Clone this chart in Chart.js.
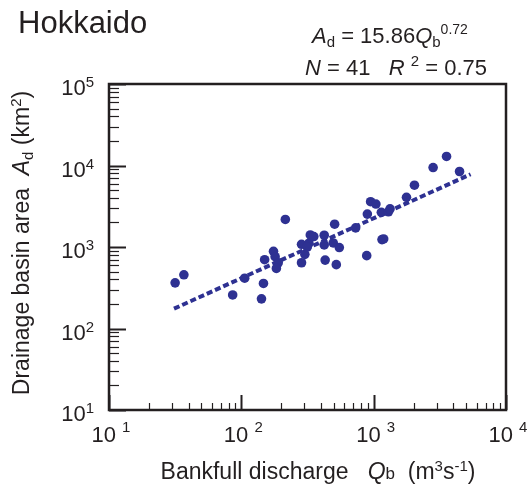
<!DOCTYPE html>
<html>
<head>
<meta charset="utf-8">
<script src="https://cdn.jsdelivr.net/npm/chart.js@4.4.1/dist/chart.umd.min.js"></script>
<style>
  body { margin: 0; background: #fff; }
  canvas { display: block; }
</style>
</head>
<body>
<canvas id="hokkaidoChart" width="531" height="494"></canvas>
<script>
  // bankfull discharge Qb (m3/s) and drainage basin area Ad (km2)
  const qb = [31.6, 36.8, 86, 106, 142, 147, 150, 175, 180, 190, 184, 215, 285, 285, 302, 324, 332, 353, 423, 423, 430, 495, 507, 522, 550, 731, 886, 896, 948, 1040, 1143, 1156, 1190, 1292, 1330, 1770, 2033, 2813, 3554, 4457, 315];
  const ad = [363, 456, 258, 414, 231, 357, 698, 885, 760, 641, 546, 2178, 1080, 641, 813, 1112, 1406, 1343, 1393, 1060, 691, 1122, 1905, 607, 984, 1718, 783, 2535, 3597, 3367, 2660, 1233, 1256, 2704, 2945, 4074, 5728, 9440, 12910, 8437, 1000];

  // regression line ends
  const fitX = [31, 5400];
  const fitY = [175, 7800];

  const xDecades = [1, 2, 3, 4];
  const yDecades = [1, 2, 3, 4, 5];

  const navy = "#2e3192";
  const ink = "#231f20";
  const FAM = "'Liberation Sans', Arial, sans-serif";

  // draw a row of text pieces, each with its own font and vertical offset
  function richText(ctx, parts, x, y, align) {
    let total = 0;
    parts.forEach(p => {
      ctx.font = p.font;
      p.w = ctx.measureText(p.t).width;
      total += p.w;
    });
    let cx = x;
    if (align === "center") cx = x - total / 2;
    if (align === "right") cx = x - total;
    ctx.textAlign = "left";
    ctx.textBaseline = "alphabetic";
    parts.forEach(p => {
      ctx.font = p.font;
      ctx.fillText(p.t, cx, y + (p.dy || 0));
      cx += p.w;
    });
  }

  const decorPlugin = {
    id: "decor",
    afterDraw(chart) {
      const ctx = chart.ctx;
      const area = chart.chartArea;
      const xs = chart.scales.x;
      const ys = chart.scales.y;
      ctx.save();
      ctx.strokeStyle = ink;
      ctx.fillStyle = ink;

      // inward ticks
      xDecades.forEach(d => {
        for (let m = 1; m <= 9; m++) {
          if (d === 4 && m > 1) break;
          const px = Math.round(xs.getPixelForValue(m * Math.pow(10, d))) + 0.5;
          const len = m === 1 ? 15 : 7;
          ctx.lineWidth = m === 1 ? 2 : 1.2;
          ctx.beginPath();
          ctx.moveTo(px, area.bottom);
          ctx.lineTo(px, area.bottom - len);
          ctx.stroke();
        }
      });
      yDecades.forEach(d => {
        for (let m = 1; m <= 9; m++) {
          if (d === 5 && m > 1) break;
          const py = Math.round(ys.getPixelForValue(m * Math.pow(10, d))) + 0.5;
          const len = m === 1 ? 17 : 10;
          ctx.lineWidth = m === 1 ? 2 : 1.2;
          ctx.beginPath();
          ctx.moveTo(area.left, py);
          ctx.lineTo(area.left + len, py);
          ctx.stroke();
        }
      });

      // frame
      ctx.lineWidth = 2.5;
      ctx.strokeRect(area.left, area.top, area.right - area.left, area.bottom - area.top);

      // tick labels
      const big = "22px " + FAM;
      const sup = "15px " + FAM;
      xDecades.forEach(d => {
        const px = xs.getPixelForValue(Math.pow(10, d));
        richText(ctx, [
          { t: "10 ", font: big },
          { t: String(d), font: sup, dy: -10 }
        ], px + 2, area.bottom + 32, "center");
      });
      yDecades.forEach(d => {
        const py = ys.getPixelForValue(Math.pow(10, d));
        richText(ctx, [
          { t: "10", font: big },
          { t: String(d), font: sup, dy: -8 }
        ], 94, py + 11, "right");
      });

      // titles
      richText(ctx, [{ t: "Hokkaido", font: "31px " + FAM }], 18, 33, "left");

      const eq = "22px " + FAM;
      const eqI = "italic 22px " + FAM;
      const eqS = "15px " + FAM;
      richText(ctx, [
        { t: "A", font: eqI },
        { t: "d", font: eqS, dy: 4 },
        { t: " = 15.86", font: eq },
        { t: "Q", font: eqI },
        { t: "b", font: eqS, dy: 4 },
        { t: "0.72", font: "14px " + FAM, dy: -9 }
      ], 312, 43, "left");
      richText(ctx, [
        { t: "N", font: eqI },
        { t: " = 41   ", font: eq },
        { t: "R", font: eqI },
        { t: " ", font: eq },
        { t: "2", font: eqS, dy: -9 },
        { t: " = 0.75", font: eq }
      ], 305, 75, "left");

      const lab = "23px " + FAM;
      const labI = "italic 23px " + FAM;
      const labS = "15px " + FAM;
      richText(ctx, [
        { t: "Bankfull discharge   ", font: lab },
        { t: "Q", font: labI },
        { t: "b", font: "17px " + FAM },
        { t: "  (m", font: lab },
        { t: "3", font: labS, dy: -8 },
        { t: "s", font: lab },
        { t: "-1", font: labS, dy: -8 },
        { t: ")", font: lab }
      ], 318, 479, "center");

      ctx.translate(29, 243);
      ctx.rotate(-Math.PI / 2);
      richText(ctx, [
        { t: "Drainage basin area  ", font: lab },
        { t: "A", font: labI },
        { t: "d", font: labS, dy: 4 },
        { t: " (km", font: lab },
        { t: "2", font: labS, dy: -8 },
        { t: ")", font: lab }
      ], 0, 0, "center");

      ctx.restore();
    }
  };

  const points = qb.map((q, i) => ({ x: q, y: ad[i] }));
  const fitLine = fitX.map((q, i) => ({ x: q, y: fitY[i] }));

  const config = {
    type: "scatter",
    data: {
      datasets: [
        {
          label: "Rivers",
          data: points,
          backgroundColor: navy,
          borderColor: navy,
          pointRadius: 4.8,
          borderWidth: 0,
        },
        {
          label: "Fit",
          data: fitLine,
          showLine: true,
          borderColor: navy,
          borderWidth: 4,
          borderDash: [6, 3],
          pointRadius: 0,
          fill: false,
        },
      ],
    },
    options: {
      responsive: false,
      animation: false,
      layout: { padding: { left: 109, right: 25, top: 84, bottom: 84 } },
      plugins: { legend: { display: false }, tooltip: { enabled: false } },
      scales: {
        x: { type: "logarithmic", min: 10, max: 10000, display: false },
        y: { type: "logarithmic", min: 10, max: 100000, display: false },
      },
    },
    plugins: [decorPlugin],
  };

  const hokkaidoChart = new Chart(document.getElementById("hokkaidoChart"), config);
</script>
</body>
</html>
